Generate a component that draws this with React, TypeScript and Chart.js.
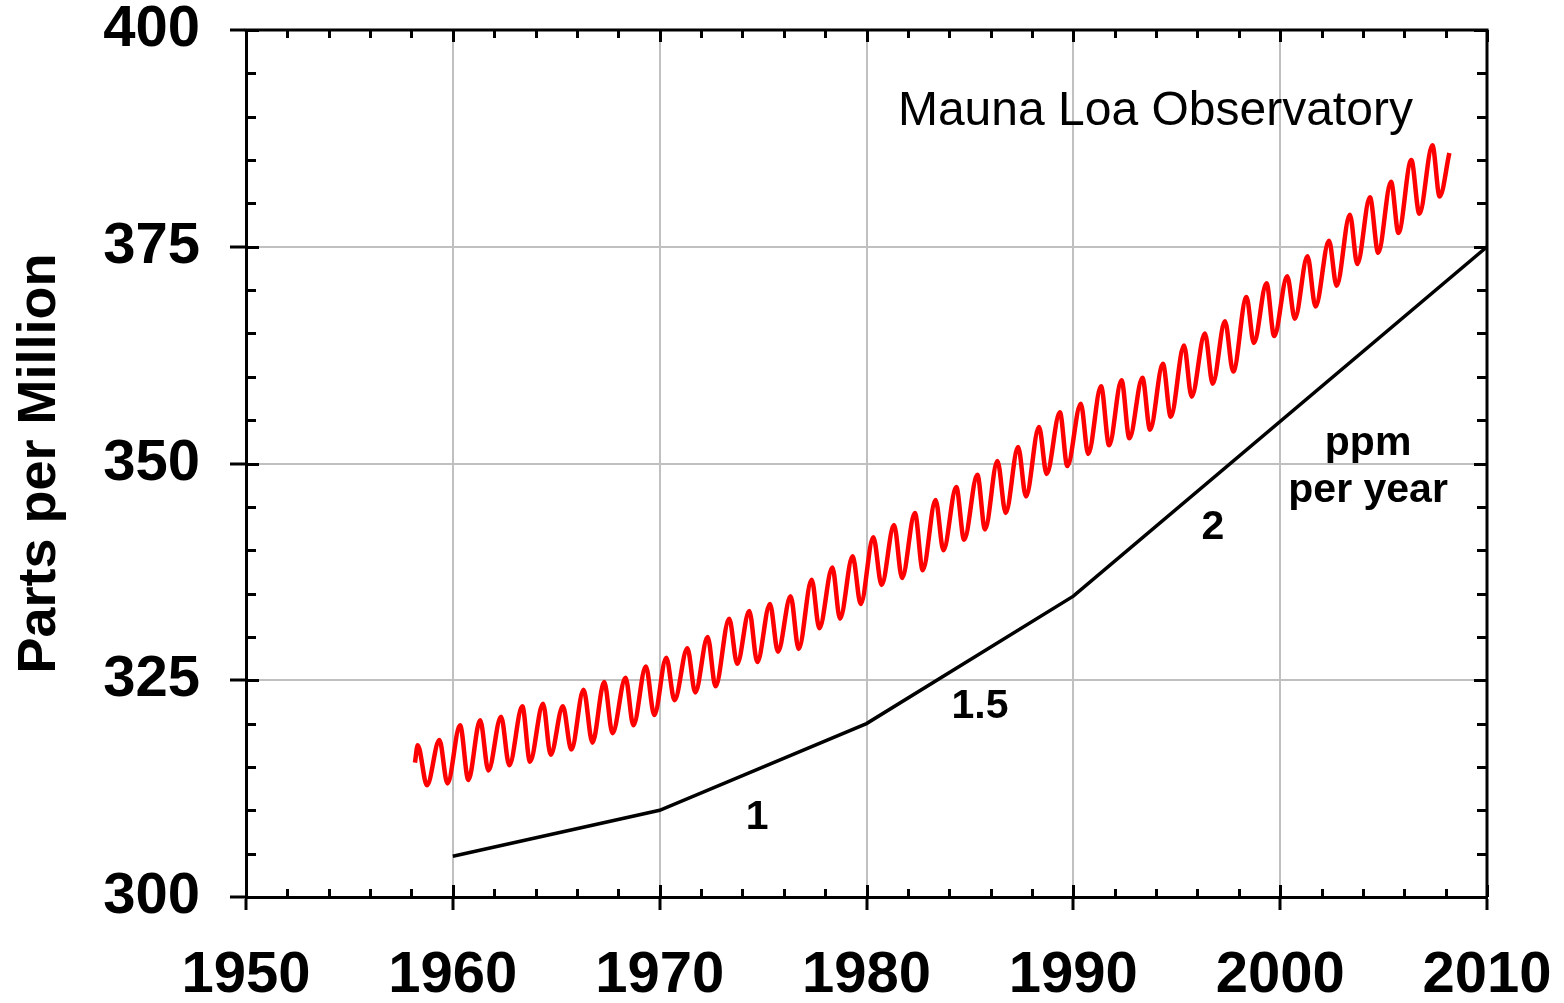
import React, { useEffect, useRef } from "react";
import { Chart, registerables } from "chart.js";

Chart.register(...registerables);

// Mauna Loa CO2: seasonal peaks and troughs (decimal year, ppm)
const co2Years = [
  1958.17, 1958.3, 1958.75, 1959.35, 1959.74, 1960.35, 1960.75, 1961.32, 1961.72,
  1962.33, 1962.73, 1963.36, 1963.73, 1964.36, 1964.73, 1965.32, 1965.73, 1966.32,
  1966.75, 1967.32, 1967.72, 1968.35, 1968.73, 1969.33, 1969.74, 1970.32, 1970.72,
  1971.34, 1971.72, 1972.32, 1972.7, 1973.36, 1973.75, 1974.33, 1974.72, 1975.33,
  1975.72, 1976.33, 1976.72, 1977.35, 1977.72, 1978.35, 1978.72, 1979.33, 1979.72,
  1980.33, 1980.73, 1981.33, 1981.72, 1982.34, 1982.72, 1983.34, 1983.72, 1984.34,
  1984.72, 1985.36, 1985.73, 1986.33, 1986.73, 1987.33, 1987.71, 1988.34, 1988.71,
  1989.35, 1989.71, 1990.36, 1990.72, 1991.34, 1991.73, 1992.33, 1992.71, 1993.34,
  1993.71, 1994.33, 1994.71, 1995.35, 1995.72, 1996.36, 1996.74, 1997.33, 1997.73,
  1998.37, 1998.73, 1999.34, 1999.71, 2000.34, 2000.71, 2001.32, 2001.71, 2002.36,
  2002.73, 2003.37, 2003.73, 2004.34, 2004.74, 2005.36, 2005.72, 2006.34, 2006.73,
  2007.36, 2007.71, 2008.18,
];
const co2Ppm = [
  315.5, 317.5, 312.9, 318.1, 313.1, 319.8, 313.5, 320.4, 314.6,
  320.8, 315.2, 322.0, 315.6, 322.3, 316.4, 322.0, 317.0, 323.9,
  317.8, 324.8, 318.9, 325.3, 319.8, 326.6, 321.0, 327.6, 322.7,
  328.7, 323.6, 330.0, 324.3, 332.1, 326.9, 333.0, 327.1, 333.8,
  328.3, 334.7, 328.6, 336.6, 331.0, 338.0, 332.1, 339.3, 333.8,
  341.5, 336.0, 342.9, 336.8, 344.3, 337.7, 345.8, 340.0, 347.3,
  341.2, 348.7, 342.4, 350.3, 344.3, 351.9, 346.2, 354.2, 348.8,
  355.9, 349.7, 356.9, 351.1, 358.9, 352.1, 359.6, 352.9, 359.9,
  353.9, 361.5, 355.4, 363.6, 357.7, 365.0, 359.2, 366.4, 360.6,
  369.2, 363.9, 370.8, 364.7, 371.6, 366.7, 373.9, 368.1, 375.7,
  370.5, 378.7, 373.0, 380.7, 374.3, 382.5, 376.6, 385.0, 378.8,
  386.7, 380.8, 385.8,
];

// Growth-rate reference line
const trendYears = [1960, 1970, 1980, 1990, 2010];
const trendPpm = [304.7, 310, 320, 334.7, 375];

// Axes
const xMin = 1950;
const xMax = 2010;
const xMajorStep = 10;
const xMinorStep = 2;
const yMin = 300;
const yMax = 400;
const yMajorStep = 25;
const yMinorStep = 5;

// Texts
const yAxisTitle = "Parts per Million";
const stationLabel = "Mauna Loa Observatory";
const rateLabels = ["1", "1.5", "2"];
const rateUnitLines = ["ppm", "per year"];

const FONT = "'Liberation Sans', Arial, Helvetica, sans-serif";

const frameTicksPlugin = {
  id: "frameTicks",
  afterDraw(chart: any) {
    const { ctx, chartArea: a, scales } = chart;
    const x = scales.x;
    const y = scales.y;
    ctx.save();
    ctx.strokeStyle = "#000";
    ctx.lineWidth = 3;
    ctx.lineCap = "butt";
    ctx.beginPath();
    ctx.moveTo(a.left - 1.5, a.top);
    ctx.lineTo(a.right + 1.5, a.top);
    ctx.moveTo(a.right, a.top);
    ctx.lineTo(a.right, a.bottom);
    for (let v = xMin; v <= xMax; v += xMinorStep) {
      const px = Math.round(x.getPixelForValue(v)) + 0.5;
      const len = v % xMajorStep === 0 ? 12 : 8;
      ctx.moveTo(px, a.bottom);
      ctx.lineTo(px, a.bottom - len);
      ctx.moveTo(px, a.top);
      ctx.lineTo(px, a.top + len);
    }
    for (let v = yMin; v <= yMax; v += yMinorStep) {
      const py = Math.round(y.getPixelForValue(v)) + 0.5;
      const len = v % yMajorStep === 0 ? 13 : 10;
      ctx.moveTo(a.left, py);
      ctx.lineTo(a.left + len, py);
      ctx.moveTo(a.right, py);
      ctx.lineTo(a.right - len, py);
    }
    ctx.stroke();
    ctx.restore();
  },
};

const textPlugin = {
  id: "chartTexts",
  afterDatasetsDraw(chart: any) {
    const { ctx, scales } = chart;
    const x = scales.x;
    const y = scales.y;
    const put = (t: string, xv: number, yv: number, font: string, align: CanvasTextAlign) => {
      ctx.font = font;
      ctx.textAlign = align;
      ctx.textBaseline = "alphabetic";
      ctx.fillStyle = "#000";
      ctx.fillText(t, x.getPixelForValue(xv), y.getPixelForValue(yv));
    };
    ctx.save();
    put(stationLabel, 1981.52, 389.04, `48px ${FONT}`, "left");
    const bold = `bold 41px ${FONT}`;
    put(rateLabels[0], 1974.71, 307.84, bold, "center");
    put(rateLabels[1], 1985.49, 320.65, bold, "center");
    put(rateLabels[2], 1996.75, 341.29, bold, "center");
    put(rateUnitLines[0], 2004.25, 350.98, bold, "center");
    put(rateUnitLines[1], 2004.25, 345.56, bold, "center");
    ctx.restore();
  },
};

const zeroPadding = (s: any) => {
  s.paddingTop = 0;
  s.paddingBottom = 0;
  s.paddingLeft = 0;
  s.paddingRight = 0;
};

export default function App() {
  const ref = useRef<HTMLCanvasElement | null>(null);

  useEffect(() => {
    if (!ref.current) return;
    const co2Points = co2Years.map((yr, i) => ({ x: yr, y: co2Ppm[i] }));
    const trendPoints = trendYears.map((yr, i) => ({ x: yr, y: trendPpm[i] }));
    const tickFont = { family: FONT, size: 58, weight: "bold" as const, lineHeight: 1 };

    const chart = new Chart(ref.current, {
      type: "line",
      data: {
        datasets: [
          {
            data: co2Points,
            borderColor: "#ff0000",
            borderWidth: 4.5,
            pointRadius: 0,
            cubicInterpolationMode: "monotone",
            fill: false,
          },
          {
            data: trendPoints,
            borderColor: "#000000",
            borderWidth: 3.5,
            pointRadius: 0,
            tension: 0,
            fill: false,
          },
        ],
      },
      options: {
        responsive: false,
        animation: false,
        layout: { padding: { top: 30, right: 77, left: 0, bottom: 0 } },
        plugins: {
          legend: { display: false },
          tooltip: { enabled: false },
        },
        scales: {
          x: {
            type: "linear",
            min: xMin,
            max: xMax,
            afterFit: (s: any) => {
              s.height = 106;
              zeroPadding(s);
            },
            ticks: {
              stepSize: xMajorStep,
              autoSkip: false,
              maxRotation: 0,
              padding: 37,
              color: "#000",
              font: tickFont,
              callback: (v: any) => String(v),
            },
            grid: {
              color: "#c0c0c0",
              lineWidth: 2,
              tickLength: 13,
              tickColor: "#000",
              tickWidth: 3,
            },
            border: { color: "#000", width: 3 },
          },
          y: {
            type: "linear",
            min: yMin,
            max: yMax,
            afterFit: (s: any) => {
              s.width = 246;
              zeroPadding(s);
            },
            ticks: {
              stepSize: yMajorStep,
              padding: 30,
              color: "#000",
              font: tickFont,
              callback: (v: any) => String(v),
            },
            grid: {
              color: "#c0c0c0",
              lineWidth: 2,
              tickLength: 16,
              tickColor: "#000",
              tickWidth: 3,
            },
            border: { color: "#000", width: 3 },
            title: {
              display: true,
              text: yAxisTitle,
              color: "#000",
              font: { family: FONT, size: 54, weight: "bold" },
              padding: { top: 8, bottom: 0 },
            },
          },
        },
      },
      plugins: [frameTicksPlugin, textPlugin],
    });
    return () => chart.destroy();
  }, []);

  return (
    <div style={{ position: "absolute", left: 0, top: 0, width: 1564, height: 1003, background: "#fff" }}>
      <canvas ref={ref} width={1564} height={1003} style={{ display: "block" }} />
    </div>
  );
}
